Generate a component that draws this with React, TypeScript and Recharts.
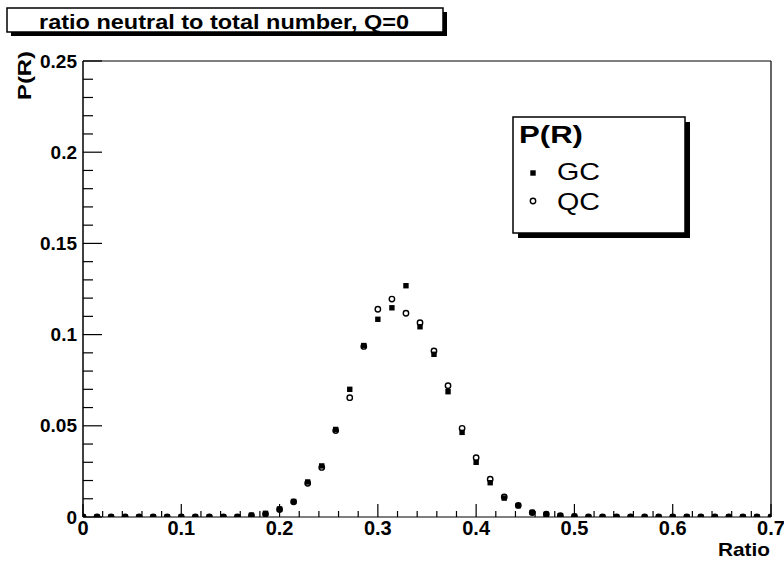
import { ScatterChart, Scatter, XAxis, YAxis, ReferenceLine, Customized } from "recharts";

// bin centres (ratio of neutral to total number)
const ratio = [
  0, 0.0143, 0.0286, 0.0429, 0.0571, 0.0714, 0.0857, 0.1, 0.1143, 0.1286,
  0.1429, 0.1571, 0.1714, 0.1857, 0.2, 0.2143, 0.2286, 0.2429, 0.2571, 0.2714,
  0.2857, 0.3, 0.3143, 0.3286, 0.3429, 0.3571, 0.3714, 0.3857, 0.4, 0.4143,
  0.4286, 0.4429, 0.4571, 0.4714, 0.4857, 0.5, 0.5143, 0.5286, 0.5429, 0.5571,
  0.5714, 0.5857, 0.6, 0.6143, 0.6286, 0.6429, 0.6571, 0.6714, 0.6857, 0.7,
];

const gcProb = [
  0, 0, 0, 0, 0, 0, 0, 0, 0, 0,
  0, 0, 0.001, 0.002, 0.0043, 0.0085, 0.0192, 0.028, 0.048, 0.07,
  0.094, 0.1084, 0.1147, 0.1268, 0.1043, 0.0892, 0.0687, 0.0464, 0.03, 0.0188,
  0.0104, 0.0062, 0.0025, 0.0014, 0.0007, 0.0003, 0, 0, 0, 0,
  0, 0, 0, 0, 0, 0, 0, 0, 0, 0,
];

const qcProb = [
  0, 0, 0, 0, 0, 0, 0, 0, 0, 0,
  0, 0, 0.0008, 0.0016, 0.0041, 0.0083, 0.0185, 0.0272, 0.0474, 0.0654,
  0.0935, 0.1139, 0.1195, 0.1117, 0.1065, 0.091, 0.072, 0.0486, 0.0325, 0.0207,
  0.011, 0.0064, 0.0024, 0.0015, 0.0007, 0.0003, 0, 0, 0, 0,
  0, 0, 0, 0, 0, 0, 0, 0, 0, 0,
];

const xMajorTicks = [0, 0.1, 0.2, 0.3, 0.4, 0.5, 0.6, 0.7];
const xMinorTicks = [
  0.02, 0.04, 0.06, 0.08, 0.12, 0.14, 0.16, 0.18, 0.22, 0.24, 0.26, 0.28,
  0.32, 0.34, 0.36, 0.38, 0.42, 0.44, 0.46, 0.48, 0.52, 0.54, 0.56, 0.58,
  0.62, 0.64, 0.66, 0.68,
];
const yMajorTicks = [0, 0.05, 0.1, 0.15, 0.2, 0.25];
const yMinorTicks = [
  0.01, 0.02, 0.03, 0.04, 0.06, 0.07, 0.08, 0.09, 0.11, 0.12, 0.13, 0.14,
  0.16, 0.17, 0.18, 0.19, 0.21, 0.22, 0.23, 0.24,
];

const gcData = ratio.map((r, i) => ({ r, p: gcProb[i] }));
const qcData = ratio.map((r, i) => ({ r, p: qcProb[i] }));

const xTicks = [...xMajorTicks, ...xMinorTicks].sort((a, b) => a - b);
const yTicks = [...yMajorTicks, ...yMinorTicks].sort((a, b) => a - b);

const FONT = "'Liberation Sans', Arial, Helvetica, sans-serif";

const isMajor = (list: number[], v: number) => list.some((t) => Math.abs(t - v) < 1e-9);
const fmt = (v: number) => String(Number(v.toFixed(2)));

function XTick(props: any) {
  const { x, y, payload } = props;
  const major = isMajor(xMajorTicks, payload.value);
  return (
    <g>
      <line x1={x} x2={x} y1={y} y2={y - (major ? 13 : 6)} stroke="#000" strokeWidth={1.2} />
      {major && (
        <text x={x} y={y + 18} textAnchor="middle" fontFamily={FONT} fontWeight="bold" fontSize={20} fill="#000">
          {fmt(payload.value)}
        </text>
      )}
    </g>
  );
}

function YTick(props: any) {
  const { x, y, payload } = props;
  const major = isMajor(yMajorTicks, payload.value);
  return (
    <g>
      <line x1={x} x2={x + (major ? 19 : 10)} y1={y} y2={y} stroke="#000" strokeWidth={1.2} />
      {major && (
        <text x={x - 6} y={y + 6.5} textAnchor="end" fontFamily={FONT} fontWeight="bold" fontSize={19} fill="#000">
          {fmt(payload.value)}
        </text>
      )}
    </g>
  );
}

// GC: small filled square, QC: open circle
const GCMark = (props: any) => (
  <rect x={props.cx - 2.7} y={props.cy - 2.7} width={5.4} height={5.4} fill="#000" />
);
const QCMark = (props: any) => (
  <circle cx={props.cx} cy={props.cy} r={2.7} fill="none" stroke="#000" strokeWidth={1.4} />
);

function Decorations() {
  return (
    <g fontFamily={FONT} fill="#000">
      {/* title box with shadow */}
      <rect x={11} y={12} width={436} height={24} fill="#000" />
      <rect x={7} y={8} width={436} height={24} fill="#fff" stroke="#000" strokeWidth={1.5} />
      <text x={39} y={28.5} fontWeight="bold" fontSize={21} textLength={370} lengthAdjust="spacingAndGlyphs">
        ratio neutral to total number, Q=0
      </text>

      {/* axis titles */}
      <text
        transform="translate(31,100) rotate(-90)"
        fontWeight="bold"
        fontSize={19}
        textLength={49}
        lengthAdjust="spacingAndGlyphs"
      >
        P(R)
      </text>
      <text x={770} y={556} textAnchor="end" fontWeight="bold" fontSize={19} textLength={52} lengthAdjust="spacingAndGlyphs">
        Ratio
      </text>

      {/* legend */}
      <rect x={518} y={122} width={172} height={116} fill="#000" />
      <rect x={513} y={117} width={172} height={116} fill="#fff" stroke="#000" strokeWidth={1.5} />
      <text x={519} y={143} fontWeight="bold" fontSize={23} textLength={64} lengthAdjust="spacingAndGlyphs">
        P(R)
      </text>
      <rect x={530.3} y={170.3} width={5.4} height={5.4} fill="#000" />
      <text x={557} y={180} fontSize={24} textLength={43} lengthAdjust="spacingAndGlyphs">
        GC
      </text>
      <circle cx={533} cy={201} r={2.7} fill="none" stroke="#000" strokeWidth={1.4} />
      <text x={557} y={209.5} fontSize={24} textLength={43} lengthAdjust="spacingAndGlyphs">
        QC
      </text>
    </g>
  );
}

export default function App() {
  return (
    <div style={{ position: "absolute", left: 0, top: 0, width: 784, height: 564, background: "#fff" }}>
      <ScatterChart width={784} height={564} margin={{ top: 61, right: 13, bottom: 17, left: 23 }}>
        <XAxis
          type="number"
          dataKey="r"
          domain={[0, 0.7]}
          ticks={xTicks}
          interval={0}
          height={30}
          tickSize={0}
          tickMargin={0}
          tickLine={false}
          tick={(p: any) => <XTick {...p} />}
          axisLine={{ stroke: "#000", strokeWidth: 1.2 }}
          allowDataOverflow
        />
        <YAxis
          type="number"
          dataKey="p"
          domain={[0, 0.25]}
          ticks={yTicks}
          interval={0}
          width={60}
          tickSize={0}
          tickMargin={0}
          tickLine={false}
          tick={(p: any) => <YTick {...p} />}
          axisLine={{ stroke: "#000", strokeWidth: 1.5 }}
          allowDataOverflow
        />
        <ReferenceLine y={0.25} stroke="#000" strokeWidth={1.2} />
        <ReferenceLine x={0.7} stroke="#000" strokeWidth={1.2} />
        <Scatter name="GC" data={gcData} shape={GCMark} isAnimationActive={false} />
        <Scatter name="QC" data={qcData} shape={QCMark} isAnimationActive={false} />
        <Customized component={Decorations} />
      </ScatterChart>
    </div>
  );
}
